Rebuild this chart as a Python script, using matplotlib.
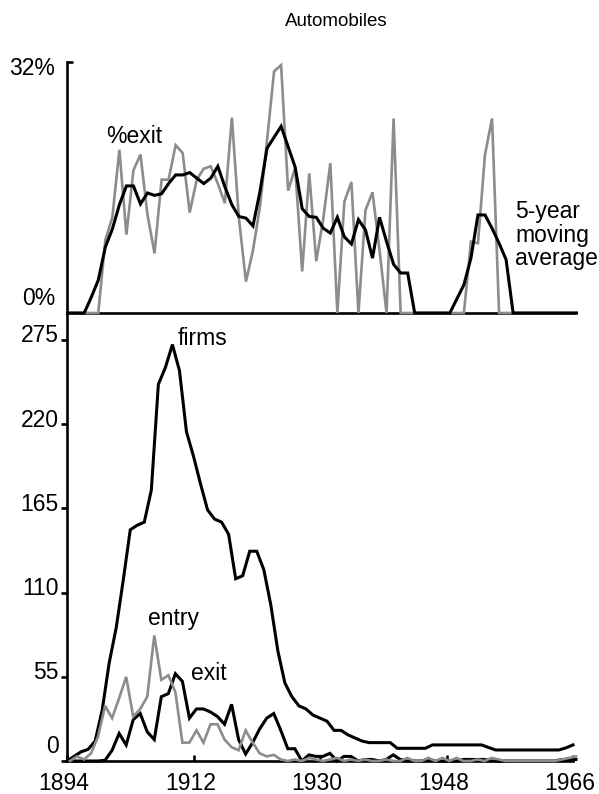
import matplotlib
matplotlib.use("Agg")
import matplotlib.pyplot as plt
import matplotlib.transforms as mtransforms
import numpy as np

plt.rcParams['font.family'] = ['Liberation Sans', 'DejaVu Sans']

# ---------------------------------------------------------------- data
years = np.arange(1894, 1967)

# annual exit rate (% of firms), 1894-1966
pct_exit = [
    0, 0, 0, 0, 0, 9.3, 12.2, 20.8, 10.0, 18.2,           # 1894-1903
    20.2, 12.5, 7.6, 17.0, 17.0, 21.4, 20.4, 12.8, 17.0, 18.4,  # 1904-1913
    18.7, 16.5, 14.0, 24.9, 12.1, 4.0, 8.0, 13.6, 22.0, 30.8,   # 1914-1923
    31.6, 15.6, 18.5, 5.3, 17.8, 6.6, 12.0, 19.1, 0, 14.2,      # 1924-1933
    16.7, 0, 13.1, 15.4, 8.0, 0, 24.8, 0, 0, 0,                 # 1934-1943
    0, 0, 0, 0, 0, 0, 0, 9.1, 8.9, 20.2,                        # 1944-1953
    24.8, 0, 0, 0, 0, 0, 0, 0, 0, 0,                            # 1954-1963
    0, 0, 0,                                                    # 1964-1966
]

# 5-year moving average of the exit rate
pct_exit_ma5 = [
    0, 0, 0, 2.0, 4.2, 8.4, 10.7, 13.8, 16.2, 16.2,
    13.9, 15.3, 15.0, 15.2, 16.5, 17.6, 17.6, 17.9, 17.2, 16.5,
    17.2, 18.7, 16.1, 13.8, 12.3, 12.1, 11.1, 15.5, 21.0, 22.4,
    23.8, 21.2, 18.6, 13.3, 12.3, 12.2, 10.8, 10.2, 12.2, 9.7,
    8.8, 11.9, 10.6, 7.0, 12.2, 9.1, 6.2, 5.1, 5.1, 0,
    0, 0, 0, 0, 0, 1.8, 3.6, 7.0, 12.5, 12.5,
    10.8, 8.9, 6.8, 0, 0, 0, 0, 0, 0, 0,
    0, 0, 0,
]

# number of firms
firms = [
    0, 3, 6, 7.6, 13, 33, 64, 87, 118, 151,
    154, 156, 177, 246, 257, 272, 255, 215, 199, 181,
    164, 158, 156, 148, 119, 121, 137, 137, 125, 102,
    72, 51, 42, 36, 34, 30, 28, 26, 20, 20,
    17, 15, 13, 12, 12, 12, 12, 8.3, 8.3, 8.3,
    8.3, 8.3, 10.5, 10.5, 10.5, 10.5, 10.5, 10.5, 10.5, 10.5,
    8.8, 7.2, 7.2, 7.2, 7.2, 7.2, 7.2, 7.2, 7.2, 7.2,
    7.2, 8.6, 10.5,
]

# number of entrants
entry = [
    0, 3, 1, 5, 16, 36, 28, 41, 55, 29,
    34, 42, 82, 53, 56, 45, 12, 12, 20, 12,
    24, 24, 14, 9, 7, 20, 12, 5, 3, 4,
    1, 0, 1, 0, 2, 1, 0, 1, 2, 0,
    1, 0, 1, 0, 0, 1, 0, 0, 2, 0,
    0, 2, 0, 2, 0, 2, 0, 0, 1, 0,
    2, 1, 0, 0, 0, 0, 0, 0, 0, 0,
    1, 2, 3,
]

# number of exits
exits = [
    0, 0, 0, 0, 0, 0.5, 7, 18, 10.5, 27,
    31, 19, 14, 42, 44, 57, 52, 28, 34, 34,
    32, 29, 24, 37, 14, 4.6, 12, 21, 28, 31,
    20, 8, 8, 0, 4, 3, 3, 5, 0, 3,
    3, 0, 1, 1, 0, 1, 4, 1, 0, 0,
    0, 1, 0, 0, 0, 0, 1, 1, 1, 1,
    0, 0, 0, 0, 0, 0, 0, 0, 0, 0,
    1, 1, 1,
]

top_ticks = [32, 0]
top_tick_labels = ['32%', '0%']
bottom_ticks = [0, 55, 110, 165, 220, 275]
bottom_tick_labels = ['0', '55', '110', '165', '220', '275']
year_ticks = [1894, 1912, 1930, 1948, 1966]
year_tick_labels = ['1894', '1912', '1930', '1948', '1966']

# ---------------------------------------------------------------- style
W, H = 599, 794
FS = 16.5
FS_TITLE = 13.5
GRAY = '#8c8c8c'
LW_BLACK = 2.2
LW_GRAY = 1.9
LW_SPINE = 1.9

fig = plt.figure(figsize=(W / 100, H / 100), dpi=100)


def rect(left, top, right, bottom):
    return [left / W, 1 - bottom / H, (right - left) / W, (bottom - top) / H]


def px_offset(dx, dy):
    return mtransforms.ScaledTranslation(dx / 100, dy / 100, fig.dpi_scale_trans)


ax_top = fig.add_axes(rect(67, 62, 575, 313))
ax_bot = fig.add_axes(rect(67, 313, 573, 761))
ax_flow = fig.add_axes(rect(67, 313, 573, 761))

for ax in (ax_top, ax_bot):
    for side in ('top', 'right'):
        ax.spines[side].set_visible(False)
    for side in ('left', 'bottom'):
        ax.spines[side].set_linewidth(LW_SPINE)
    ax.patch.set_visible(False)
ax_flow.axis('off')

# ---------------------------------------------------------------- top panel
ax_top.set_xlim(1893.55, 1965.8)
ax_top.set_ylim(0, 32)
ax_top.plot(years, pct_exit, color=GRAY, lw=LW_GRAY, clip_on=False,
            zorder=3, solid_joinstyle='miter')
ax_top.plot(years, pct_exit_ma5, color='black', lw=LW_BLACK, clip_on=False,
            zorder=4, solid_joinstyle='miter')
ax_top.set_xticks([])
ax_top.set_yticks([32])
ax_top.set_yticklabels([])
ax_top.tick_params(axis='y', direction='in', length=4.3, width=LW_SPINE)

top_w = 575 - 67
blend_top = mtransforms.blended_transform_factory(ax_top.transAxes, ax_top.transData)
for v, s, dy in zip(top_ticks, top_tick_labels, (-13, 8)):
    ax_top.text((55 - 67) / top_w, v, s, ha='right', va='baseline', fontsize=FS,
                transform=blend_top + px_offset(0, dy))

ax_top.text(1903.1, 21.7, '%exit', ha='center', va='baseline', fontsize=FS)
ma_lines = ['5-year', 'moving', 'average']
for i, s in enumerate(ma_lines):
    ax_top.text(1957.3, 12.05, s, ha='left', va='baseline', fontsize=FS,
                transform=ax_top.transData + px_offset(0, -23.4 * i))

# ---------------------------------------------------------------- bottom panel
ax_bot.set_xlim(1894, 1966)
ax_bot.set_ylim(0, 292.6)
ax_bot.plot(years, firms, color='black', lw=LW_BLACK, clip_on=False,
            zorder=3, solid_joinstyle='miter')

ax_flow.set_xlim(1894 - 0.42, 1966 - 0.42)
ax_flow.set_ylim(0, 292.6)
ax_flow.plot(years, exits, color='black', lw=LW_BLACK, clip_on=False,
             zorder=3, solid_joinstyle='miter')
ax_flow.plot(years, entry, color=GRAY, lw=LW_GRAY, clip_on=False,
             zorder=4, solid_joinstyle='miter')

ax_bot.set_yticks(bottom_ticks)
ax_bot.set_yticklabels([])
ax_bot.tick_params(axis='y', direction='out', length=4.3, width=LW_SPINE)
ax_bot.set_xticks(year_ticks)
ax_bot.set_xticklabels([])
ax_bot.tick_params(axis='x', direction='in', length=4.3, width=LW_SPINE)

blend_x = mtransforms.blended_transform_factory(ax_bot.transData, ax_bot.transAxes)
for yr, s in zip(year_ticks, year_tick_labels):
    ax_bot.text(yr, 0, s, ha='center', va='top', fontsize=FS,
                transform=blend_x + px_offset(-3, -11))

bot_w = 573 - 67
blend_bot = mtransforms.blended_transform_factory(ax_bot.transAxes, ax_bot.transData)
for v, s in zip(bottom_ticks, bottom_tick_labels):
    dy = 7.7 if v == 0 else -2.5
    ax_bot.text((59 - 67) / bot_w, v, s, ha='right', va='baseline', fontsize=FS,
                transform=blend_bot + px_offset(0, dy))

ax_bot.text(1909.8, 271.7, 'firms', ha='left', va='baseline', fontsize=FS)
ax_bot.text(1905.55, 88.8, 'entry', ha='left', va='baseline', fontsize=FS)
ax_bot.text(1911.6, 52.9, 'exit', ha='left', va='baseline', fontsize=FS)

fig.text(336 / W, 1 - 21 / H, 'Automobiles', ha='center', va='center',
         fontsize=FS_TITLE)

fig.savefig('out.png', dpi=100)
